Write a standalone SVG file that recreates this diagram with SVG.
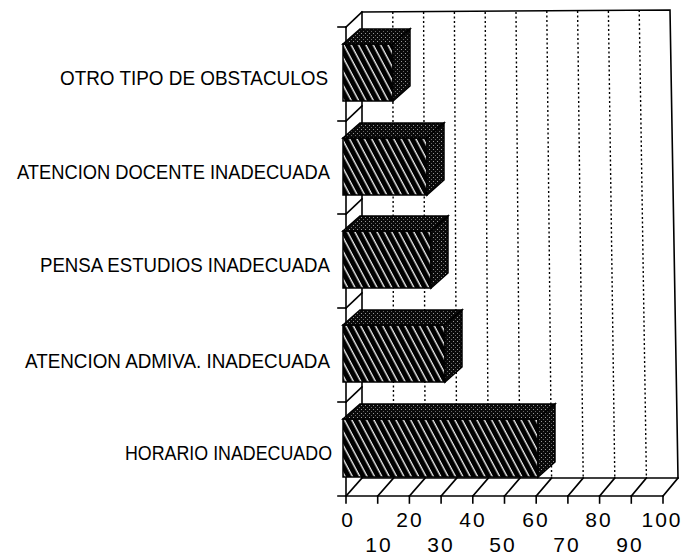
<svg xmlns="http://www.w3.org/2000/svg" width="684" height="557" viewBox="0 0 684 557">
  <style>
    .ln { stroke: #000; stroke-width: 1.6; fill: none; stroke-linecap: square; }
    .grid { stroke: #000; stroke-width: 1.4; stroke-dasharray: 2 2.5; fill: none; }
    .face { stroke: #000; stroke-width: 1.5; stroke-linejoin: miter; }
    .front { fill: url(#hatch); }
    .side { fill: url(#stip); }
    .lab { font-family: "Liberation Sans Narrow", "Liberation Sans", Arial, sans-serif; font-size: 21px; fill: #000; }
    .num { font-family: "Liberation Sans", Arial, sans-serif; font-size: 21px; fill: #000; text-anchor: middle; letter-spacing: 2px; }
  </style>
  <defs>
    <pattern id="hatch" patternUnits="userSpaceOnUse" width="6.5" height="8" patternTransform="rotate(-28)">
      <rect width="6.5" height="8" fill="#000"/>
      <line x1="3" y1="0" x2="3" y2="8" stroke="#fff" stroke-width="1.3"/>
    </pattern>
    <pattern id="stip" patternUnits="userSpaceOnUse" width="4" height="4">
      <rect width="4" height="4" fill="#0a0a0a"/>
      <rect x="1" y="1" width="1" height="1" fill="#999"/>
      <rect x="3" y="3" width="1" height="1" fill="#666"/>
    </pattern>
  </defs>
  <rect width="684" height="557" fill="#fff"/>

  <g id="wall">
    <polygon class="ln" points="362,12 670,10 678,478 362,478" fill="#fff"/>
  </g>
  <g id="gridlines">
    <line class="grid" x1="392.8" y1="12" x2="393.6" y2="478"/>
    <line class="grid" x1="423.6" y1="12" x2="425.2" y2="478"/>
    <line class="grid" x1="454.4" y1="12" x2="456.8" y2="478"/>
    <line class="grid" x1="485.2" y1="12" x2="488.4" y2="478"/>
    <line class="grid" x1="516" y1="12" x2="520" y2="478"/>
    <line class="grid" x1="546.8" y1="11" x2="551.6" y2="478"/>
    <line class="grid" x1="577.6" y1="11" x2="583.2" y2="478"/>
    <line class="grid" x1="608.4" y1="11" x2="614.8" y2="478"/>
    <line class="grid" x1="639.2" y1="10" x2="646.4" y2="478"/>
  </g>

  <g id="connectors">
    <!-- left axis and category separators -->
    <line class="ln" x1="346" y1="27" x2="346" y2="503"/>
    <line class="ln" x1="338" y1="27" x2="346" y2="27"/>
    <line class="ln" x1="346" y1="27" x2="362" y2="12"/>
    <line class="ln" x1="338" y1="121" x2="346" y2="121"/>
    <line class="ln" x1="346" y1="121" x2="362" y2="106"/>
    <line class="ln" x1="338" y1="214" x2="346" y2="214"/>
    <line class="ln" x1="346" y1="214" x2="362" y2="199"/>
    <line class="ln" x1="338" y1="308" x2="346" y2="308"/>
    <line class="ln" x1="346" y1="308" x2="362" y2="293"/>
    <line class="ln" x1="338" y1="402" x2="346" y2="402"/>
    <line class="ln" x1="346" y1="402" x2="362" y2="387"/>
    <!-- floor -->
    <line class="ln" x1="338" y1="496" x2="663" y2="496"/>
    <line class="ln" x1="346" y1="496" x2="362" y2="478"/>
    <line class="ln" x1="377.7" y1="496" x2="393.6" y2="478"/>
    <line class="ln" x1="409.4" y1="496" x2="425.2" y2="478"/>
    <line class="ln" x1="441.1" y1="496" x2="456.8" y2="478"/>
    <line class="ln" x1="472.8" y1="496" x2="488.4" y2="478"/>
    <line class="ln" x1="504.5" y1="496" x2="520" y2="478"/>
    <line class="ln" x1="536.2" y1="496" x2="551.6" y2="478"/>
    <line class="ln" x1="567.9" y1="496" x2="583.2" y2="478"/>
    <line class="ln" x1="599.6" y1="496" x2="614.8" y2="478"/>
    <line class="ln" x1="631.3" y1="496" x2="646.4" y2="478"/>
    <line class="ln" x1="663" y1="496" x2="678" y2="478"/>
    <!-- ticks -->
    <line class="ln" x1="377.7" y1="496" x2="377.7" y2="503"/>
    <line class="ln" x1="409.4" y1="496" x2="409.4" y2="503"/>
    <line class="ln" x1="441.1" y1="496" x2="441.1" y2="503"/>
    <line class="ln" x1="472.8" y1="496" x2="472.8" y2="503"/>
    <line class="ln" x1="504.5" y1="496" x2="504.5" y2="503"/>
    <line class="ln" x1="536.2" y1="496" x2="536.2" y2="503"/>
    <line class="ln" x1="567.9" y1="496" x2="567.9" y2="503"/>
    <line class="ln" x1="599.6" y1="496" x2="599.6" y2="503"/>
    <line class="ln" x1="631.3" y1="496" x2="631.3" y2="503"/>
    <line class="ln" x1="663" y1="496" x2="663" y2="503"/>
  </g>

  <g id="bar-otro">
    <rect class="face front" x="343" y="44" width="50" height="57"/>
    <polygon class="face side" points="343,44 393,44 410,29 360,29"/>
    <polygon class="face side" points="393,44 410,29 410,86 393,101"/>
  </g>
  <g id="bar-docente">
    <rect class="face front" x="343" y="138" width="84" height="57"/>
    <polygon class="face side" points="343,138 427,138 444,123 360,123"/>
    <polygon class="face side" points="427,138 444,123 444,180 427,195"/>
  </g>
  <g id="bar-pensa">
    <rect class="face front" x="343" y="231" width="88" height="57"/>
    <polygon class="face side" points="343,231 431,231 448,216 360,216"/>
    <polygon class="face side" points="431,231 448,216 448,273 431,288"/>
  </g>
  <g id="bar-admiva">
    <rect class="face front" x="343" y="325" width="102" height="57"/>
    <polygon class="face side" points="343,325 445,325 462,310 360,310"/>
    <polygon class="face side" points="445,325 462,310 462,367 445,382"/>
  </g>
  <g id="bar-horario">
    <rect class="face front" x="343" y="419" width="195" height="58"/>
    <polygon class="face side" points="343,419 538,419 555,404 360,404"/>
    <polygon class="face side" points="538,419 555,404 555,462 538,477"/>
  </g>

  <g id="labels">
    <text class="lab" x="60" y="85" textLength="268" lengthAdjust="spacingAndGlyphs">OTRO TIPO DE OBSTACULOS</text>
    <text class="lab" x="17" y="179" textLength="313" lengthAdjust="spacingAndGlyphs">ATENCION DOCENTE INADECUADA</text>
    <text class="lab" x="40" y="272" textLength="290" lengthAdjust="spacingAndGlyphs">PENSA ESTUDIOS INADECUADA</text>
    <text class="lab" x="25" y="368" textLength="305" lengthAdjust="spacingAndGlyphs">ATENCION ADMIVA. INADECUADA</text>
    <text class="lab" x="125" y="460" textLength="207" lengthAdjust="spacingAndGlyphs">HORARIO INADECUADO</text>
  </g>

  <g id="axis-numbers">
    <text class="num" x="348" y="527">0</text>
    <text class="num" x="410" y="527">20</text>
    <text class="num" x="473" y="527">40</text>
    <text class="num" x="536" y="527">60</text>
    <text class="num" x="599" y="527">80</text>
    <text class="num" x="662" y="527">100</text>
    <text class="num" x="379" y="552">10</text>
    <text class="num" x="441" y="552">30</text>
    <text class="num" x="503" y="552">50</text>
    <text class="num" x="567" y="552">70</text>
    <text class="num" x="630" y="552">90</text>
  </g>
</svg>
